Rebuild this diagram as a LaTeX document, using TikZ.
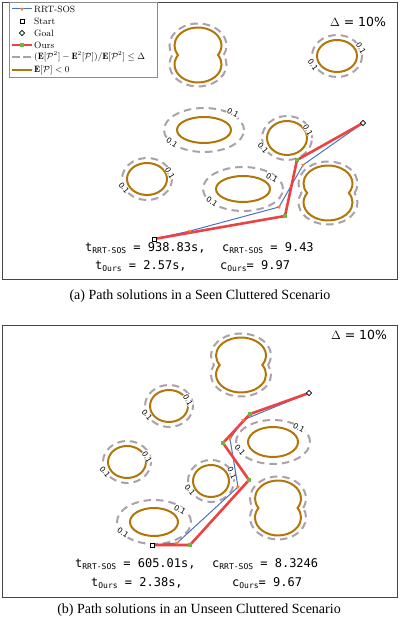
\documentclass[tikz,border=0pt]{standalone}
\usepackage{fontspec}
\newfontfamily\capfont{Liberation Serif}
\newfontfamily\labfont{DejaVu Sans}
\newfontfamily\numfont{DejaVu Sans Mono}
\usepackage{xcolor}
\definecolor{rrtblue}{RGB}{70,116,196}
\definecolor{oursred}{RGB}{236,66,66}
\definecolor{obsbrown}{RGB}{178,118,8}
\definecolor{ringgray}{RGB}{172,160,172}
\definecolor{mkgreen}{RGB}{112,182,60}
\definecolor{mkorange}{RGB}{242,132,52}
\definecolor{framegray}{RGB}{70,70,70}
\usepackage{tikz}
\usetikzlibrary{shapes.geometric, arrows.meta, positioning, calc}
\usepackage{amsmath}
\usepackage{amssymb}
\tikzset{
  panel/.style={draw=framegray, line width=0.9pt},
  legendbox/.style={draw=black!45, fill=white, line width=0.5pt},
  obstacle/.style={draw=obsbrown, line width=2pt},
  ring/.style={draw=ringgray, line width=2pt, dash pattern=on 7.5pt off 5pt},
  contlab/.style={font=\labfont\fontsize{7.5}{7.5}\selectfont, fill=white, inner sep=0.4pt},
  rrtpath/.style={draw=rrtblue, line width=1pt},
  ourspath/.style={draw=oursred, line width=2.6pt},
  rrtmark/.style={regular polygon, regular polygon sides=3, shape border rotate=180,
    fill=mkorange, inner sep=0pt, minimum size=4.5pt},
  oursmark/.style={rectangle, fill=mkgreen, inner sep=0pt, minimum size=3.2pt},
  startmark/.style={rectangle, draw=black, fill=white, line width=0.7pt,
    inner sep=0pt, minimum size=4pt},
  goalmark/.style={diamond, draw=black, fill=white, line width=0.7pt,
    inner sep=0pt, minimum size=5.5pt},
  legtext/.style={anchor=west, inner sep=0pt, font=\fontsize{9.2}{9.2}\selectfont},
  stattext/.style={anchor=west, inner sep=0pt, font=\numfont\fontsize{12}{12}\selectfont},
  deltatext/.style={inner sep=0pt, font=\labfont\fontsize{12.5}{13}\selectfont},
  captext/.style={inner sep=0pt, font=\capfont\fontsize{14}{16}\selectfont}
}
% two-lobed obstacle: [style] cx, cy, rx, ry, lobe offset
\newcommand{\peanut}[6][]{%
  \pgfmathsetmacro\pnang{asin(#6/#5)}
  \draw[#1] ({#2+#4*cos(\pnang)},#3)
    arc[start angle=-\pnang, end angle=180+\pnang, x radius=#4, y radius=#5]
    arc[start angle=180-\pnang, end angle=360+\pnang, x radius=#4, y radius=#5] -- cycle;
}
\newcommand{\sub}[1]{{\fontsize{8}{8}\selectfont\raisebox{-2.5pt}{#1}}}

\begin{document}
\begin{tikzpicture}[x=1pt, y=1pt]
  \useasboundingbox (0,0) rectangle (399,628);

  % ---------------- panel (a) ----------------
  \draw[panel] (2,349) rectangle (397,626);

  \peanut[ring]{198}{573}{28.5}{22}{9.5}
  \peanut[obstacle]{198}{573}{23.5}{18}{9.5}
  \peanut[ring]{328}{435}{29.5}{22}{9.5}
  \peanut[obstacle]{328}{435}{24.5}{18}{9.5}

  \draw[ring] (337,572) ellipse [x radius=25, y radius=21];
  \draw[obstacle] (337,572) ellipse [x radius=20, y radius=16];
  \draw[ring] (204,498) ellipse [x radius=40, y radius=22];
  \draw[obstacle] (204,498) ellipse [x radius=27, y radius=13];
  \draw[ring] (287,490) ellipse [x radius=25, y radius=22];
  \draw[obstacle] (287,490) ellipse [x radius=20, y radius=17];
  \draw[ring] (147,449) ellipse [x radius=25, y radius=21];
  \draw[obstacle] (147,449) ellipse [x radius=20, y radius=16];
  \draw[ring] (243,439) ellipse [x radius=40, y radius=22];
  \draw[obstacle] (243,439) ellipse [x radius=27, y radius=13];

  \node[contlab, rotate=-60] (la1) at (361,580) {0.1};
  \node[contlab, rotate=-55] (la2) at (313,563) {0.1};
  \node[contlab, rotate=-30] (lb1) at (233,515) {0.1};
  \node[contlab, rotate=-35] (lb2) at (172,485) {0.1};
  \node[contlab, rotate=-60] (lc1) at (308,498) {0.1};
  \node[contlab, rotate=-50] (lc2) at (263,480) {0.1};
  \node[contlab, rotate=-60] (ld1) at (170,455) {0.1};
  \node[contlab, rotate=-50] (ld2) at (124,440) {0.1};
  \node[contlab, rotate=-30] (le1) at (272,450) {0.1};
  \node[contlab, rotate=-35] (le2) at (212,426) {0.1};

  \coordinate (startA) at (154,389);
  \coordinate (goalA) at (363,505);
  \coordinate (rrtA1) at (190,397);
  \coordinate (rrtA2) at (279,421);
  \coordinate (rrtA3) at (303,463);
  \coordinate (oursA1) at (285,412);
  \coordinate (oursA2) at (297,468);

  \draw[rrtpath] (startA) -- (rrtA1) -- (rrtA2) -- (rrtA3) -- (goalA);
  \draw[ourspath] (startA) -- (oursA1) -- (oursA2) -- (goalA);
  \node[rrtmark] at (rrtA1) {};
  \node[rrtmark] at (rrtA2) {};
  \node[rrtmark] at (rrtA3) {};
  \node[oursmark] at (oursA1) {};
  \node[oursmark] at (oursA2) {};
  \node[startmark] (sA) at (startA) {};
  \node[goalmark] (gA) at (goalA) {};

  \node[deltatext] (deltaA) at (358,606) {$\Delta$ = 10\%};

  \node[stattext] (trrtA) at (85,380) {t\sub{RRT-SOS} = 938.83s,};
  \node[stattext] (crrtA) at (222,380) {c\sub{RRT-SOS} = 9.43};
  \node[stattext] (toursA) at (95,362) {t\sub{Ours} = 2.57s,};
  \node[stattext] (coursA) at (220,362) {c\sub{Ours}= 9.97};

  % legend
  \draw[legendbox] (9,551) rectangle (157,626);
  \draw[rrtpath] (12,619) -- (32,619);
  \node[rrtmark] at (22,619) {};
  \node[startmark] at (22,607) {};
  \node[goalmark] at (22,595) {};
  \draw[ourspath] (12,583) -- (32,583);
  \node[oursmark] at (22,583) {};
  \draw[ring, dash pattern=on 8pt off 3pt] (12,571) -- (32,571);
  \draw[obstacle] (12,558) -- (32,558);
  \node[legtext] (legrrt) at (34,619) {RRT-SOS};
  \node[legtext] (legstart) at (34,607) {Start};
  \node[legtext] (leggoal) at (34,595) {Goal};
  \node[legtext] (legours) at (34,583) {Ours};
  \node[legtext] (legvar) at (34,571)
    {$(\mathbf{E}[\mathcal{P}^2]-\mathbf{E}^2[\mathcal{P}])/\mathbf{E}[\mathcal{P}^2]\leq\Delta$};
  \node[legtext] (legmean) at (34,558) {$\mathbf{E}[\mathcal{P}]<0$};

  \node[captext] (capA) at (200,332) {(a) Path solutions in a Seen Cluttered Scenario};

  % ---------------- panel (b) ----------------
  \draw[panel] (2,31) rectangle (397,303);

  \peanut[ring]{241}{263}{30}{22}{9.5}
  \peanut[obstacle]{241}{263}{25}{18}{9.5}
  \peanut[ring]{278}{120}{28}{22}{9.5}
  \peanut[obstacle]{278}{120}{23}{18}{9.5}

  \draw[ring] (169,222) ellipse [x radius=24, y radius=21];
  \draw[obstacle] (169,222) ellipse [x radius=19, y radius=16];
  \draw[ring] (273,186) ellipse [x radius=37, y radius=22];
  \draw[obstacle] (273,186) ellipse [x radius=25, y radius=15];
  \draw[ring] (127,166) ellipse [x radius=24, y radius=21];
  \draw[obstacle] (127,166) ellipse [x radius=19, y radius=16];
  \draw[ring] (211,147) ellipse [x radius=23, y radius=21];
  \draw[obstacle] (211,147) ellipse [x radius=18, y radius=16];
  \draw[ring] (154,106) ellipse [x radius=37, y radius=22];
  \draw[obstacle] (154,106) ellipse [x radius=24, y radius=14];

  \node[contlab, rotate=-60] (lf1) at (188,228) {0.1};
  \node[contlab, rotate=-50] (lf2) at (147,213) {0.1};
  \node[contlab, rotate=-30] (lg1) at (299,200) {0.1};
  \node[contlab, rotate=-50] (lg2) at (240,178) {0.1};
  \node[contlab, rotate=-60] (lh1) at (147,171) {0.1};
  \node[contlab, rotate=-50] (lh2) at (105,156) {0.1};
  \node[contlab, rotate=-65] (li1) at (232,155) {0.1};
  \node[contlab, rotate=-50] (li2) at (190,138) {0.1};
  \node[contlab, rotate=-30] (lj1) at (180,118) {0.1};
  \node[contlab, rotate=-35] (lj2) at (123,95) {0.1};

  \coordinate (startB) at (152,83);
  \coordinate (goalB) at (309,235);
  \coordinate (rrtB1) at (177,85);
  \coordinate (rrtB2) at (238,141);
  \coordinate (rrtB3) at (230,189);
  \coordinate (rrtB4) at (243,208);
  \coordinate (oursB1) at (190,83);
  \coordinate (oursB2) at (249,148);
  \coordinate (oursB3) at (223,185);
  \coordinate (oursB4) at (250,214);

  \draw[rrtpath] (startB) -- (rrtB1) -- (rrtB2) -- (rrtB3) -- (rrtB4) -- (goalB);
  \draw[ourspath] (startB) -- (oursB1) -- (oursB2) -- (oursB3) -- (oursB4) -- (goalB);
  \node[rrtmark] at (rrtB1) {};
  \node[rrtmark] at (rrtB2) {};
  \node[rrtmark] at (rrtB3) {};
  \node[rrtmark] at (rrtB4) {};
  \node[oursmark] at (oursB1) {};
  \node[oursmark] at (oursB2) {};
  \node[oursmark] at (oursB3) {};
  \node[oursmark] at (oursB4) {};
  \node[startmark] (sB) at (startB) {};
  \node[goalmark] (gB) at (goalB) {};

  \node[deltatext] (deltaB) at (359,293) {$\Delta$ = 10\%};

  \node[stattext] (trrtB) at (75,64) {t\sub{RRT-SOS} = 605.01s,};
  \node[stattext] (crrtB) at (212,64) {c\sub{RRT-SOS} = 8.3246};
  \node[stattext] (toursB) at (91,45) {t\sub{Ours} = 2.38s,};
  \node[stattext] (coursB) at (232,45) {c\sub{Ours}= 9.67};

  \node[captext] (capB) at (199,18) {(b) Path solutions in an Unseen Cluttered Scenario};

\end{tikzpicture}
\end{document}
